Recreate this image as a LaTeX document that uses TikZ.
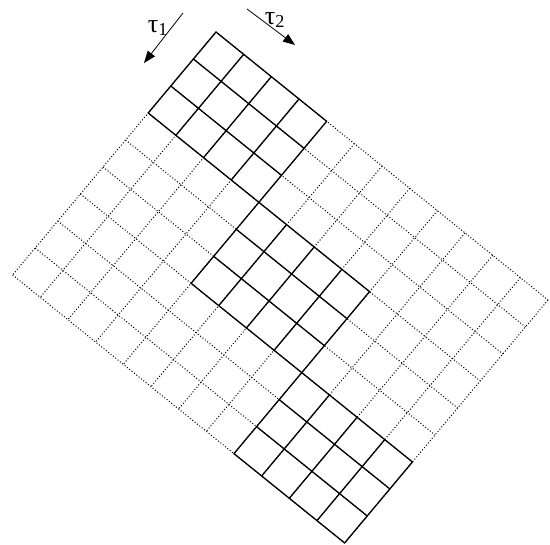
\documentclass[tikz,border=0pt]{standalone}
\usepackage{fontspec}
\setmainfont{Liberation Serif}
\usetikzlibrary{arrows.meta}
\tikzset{
  dotline/.style={line width=1pt,dash pattern=on 1pt off 2pt},
  solidline/.style={line width=1.3pt,line cap=round,line join=round},
  tauarrow/.style={line width=0.8pt,-{Triangle[length=12pt,width=9pt]}},
  taulabel/.style={inner sep=0pt,font=\fontsize{26}{28}\selectfont}
}
\begin{document}
\begin{tikzpicture}[x=1pt,y=-1pt]
	  \useasboundingbox (0,0) rectangle (550,545);
	  % lattice in the (tau2,tau1) cells
	  \begin{scope}[shift={(216,32)},x={(27.67pt,-22.33pt)},y={(-22.6pt,-27pt)}]
	    \foreach \i in {0,...,12} \draw[dotline] (\i,0) -- (\i,9);
	    \foreach \j in {0,...,9} \draw[dotline] (0,\j) -- (12,\j);
	    % the three solid blocks
	    \foreach \a/\b in {0/0,4/3,8/6} {
	      \foreach \i in {0,...,4} \draw[solidline] (\a+\i,\b) -- (\a+\i,\b+3);
	      \foreach \j in {0,...,3} \draw[solidline] (\a,\b+\j) -- (\a+4,\b+\j);
	    }
	  \end{scope}
	  % directions
	  \coordinate (t1s) at (183,13);
	  \coordinate (t1e) at (144,63);
	  \coordinate (t2s) at (247,9);
	  \coordinate (t2e) at (295,45);
	  \draw[tauarrow] (t1s) -- (t1e);
	  \draw[tauarrow] (t2s) -- (t2e);
	  \node[taulabel] (tau1) at (158,28) {τ\textsubscript{1}};
	  \node[taulabel] (tau2) at (275,20) {τ\textsubscript{2}};
	\end{tikzpicture}
\end{document}
